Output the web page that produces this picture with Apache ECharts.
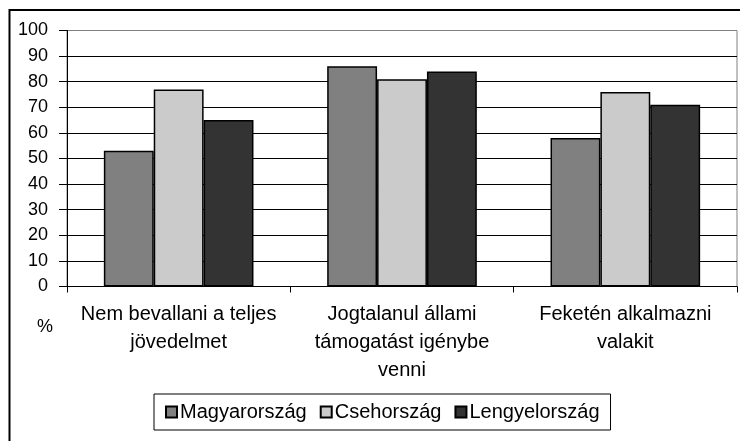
<!DOCTYPE html>
<html>
<head>
<meta charset="utf-8">
<script src="https://cdn.jsdelivr.net/npm/echarts@6/dist/echarts.min.js"></script>
<style>
html,body{margin:0;padding:0;background:#fff;}
#chart{width:740px;height:441px;}
</style>
</head>
<body>
<div id="chart"></div>
<script>
const categories = ["Nem bevallani a teljes\njövedelmet", "Jogtalanul állami\ntámogatást igénybe\nvenni", "Feketén alkalmazni\nvalakit"];
const seriesNames = ["Magyarország", "Csehország", "Lengyelország"];
const magyar = [53, 86, 58];
const cseh = [77, 81, 76];
const lengyel = [65, 84, 71];
const yTicks = { min: 0, max: 100, interval: 10 };

const colors = ["#808080", "#cbcbcb", "#333333"];
const values = [magyar, cseh, lengyel];
const font = "'Liberation Sans', Arial, sans-serif";

const chart = echarts.init(document.getElementById('chart'));
const splitColors = [];
for (let v = yTicks.min; v <= yTicks.max; v += yTicks.interval) splitColors.push(v === yTicks.max ? '#808080' : '#000');

chart.setOption({
  animation: false,
  backgroundColor: '#fff',
  textStyle: { fontFamily: font, color: '#000' },
  grid: { left: 67, top: 30.5, width: 670, height: 256, show: true, borderColor: '#808080', borderWidth: 1, containLabel: false },
  legend: {
    left: 154, top: 394,
    itemWidth: 11, itemHeight: 11, itemGap: 13,
    padding: [8, 11],
    borderColor: '#000', borderWidth: 1,
    textStyle: { fontSize: 20, color: '#000', fontFamily: font, padding: [0, 0, 0, -2] },
    icon: 'rect',
    data: seriesNames
  },
  xAxis: {
    type: 'category',
    data: categories,
    axisLine: { lineStyle: { color: '#000', width: 1 } },
    axisTick: { show: true, length: 6, lineStyle: { color: '#000' } },
    axisLabel: { fontSize: 20, lineHeight: 28, color: '#000', margin: 14, interval: 0, fontFamily: font }
  },
  yAxis: {
    type: 'value',
    min: yTicks.min, max: yTicks.max, interval: yTicks.interval,
    name: '%',
    nameLocation: 'start',
    nameGap: 32,
    nameTextStyle: { fontSize: 18, color: '#000', fontFamily: font, padding: [0, 44, 0, 0], align: 'center' },
    axisLine: { show: true, lineStyle: { color: '#000', width: 1 } },
    axisTick: { show: true, length: 8, lineStyle: { color: '#000' } },
    axisLabel: { fontSize: 18, color: '#000', margin: 19, fontFamily: font },
    splitLine: { show: true, lineStyle: { color: splitColors, width: 1 } }
  },
  series: seriesNames.map((n, i) => ({
    name: n,
    type: 'bar',
    data: values[i],
    barGap: '0%',
    barCategoryGap: '33%',
    itemStyle: { color: colors[i], borderColor: '#000', borderWidth: 1.5 }
  })),
  graphic: [{
    type: 'rect',
    shape: { x: 9.5, y: 10, width: 800, height: 500 },
    style: { fill: null, stroke: '#000', lineWidth: 2 },
    silent: true, z: 100
  }]
});
</script>
</body>
</html>
